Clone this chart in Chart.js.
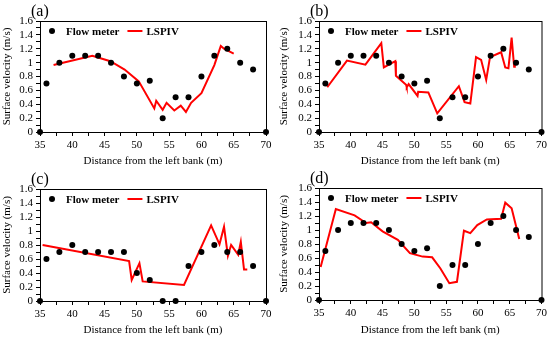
<!DOCTYPE html>
<html>
<head>
<meta charset="utf-8">
<script src="https://cdn.jsdelivr.net/npm/chart.js@4.4.0/dist/chart.umd.min.js"></script>
<style>
  html, body { margin: 0; padding: 0; background: #fff; }
  #wrap { position: relative; width: 550px; height: 337px; overflow: hidden; }
  .panel { position: absolute; width: 275px; }
</style>
</head>
<body>
<div id="wrap">
  <div class="panel" style="left:0;top:0;height:168px"><canvas id="chartA"></canvas></div>
  <div class="panel" style="left:275px;top:0;height:168px"><canvas id="chartB"></canvas></div>
  <div class="panel" style="left:0;top:168px;height:169px"><canvas id="chartC"></canvas></div>
  <div class="panel" style="left:275px;top:168px;height:169px"><canvas id="chartD"></canvas></div>
</div>
<script>
const FONT = '"Liberation Serif", "Times New Roman", serif';

// flow meter stations (m) and velocities (m/s)
const meterDist = [35, 36, 38, 40, 42, 44, 46, 48, 50, 52, 54, 56, 58, 60, 62, 64, 66, 68, 70];
const meterVelABD = [0, 0.7, 1.0, 1.1, 1.1, 1.1, 1.0, 0.8, 0.7, 0.74, 0.2, 0.5, 0.5, 0.8, 1.1, 1.2, 1.0, 0.9, 0];
const meterVelC = [0, 0.6, 0.7, 0.8, 0.7, 0.7, 0.7, 0.7, 0.4, 0.3, 0, 0, 0.5, 0.7, 0.8, 0.7, 0.7, 0.5, 0];

// LSPIV profiles
const lspivDistA = [37.1, 43.1, 45.9, 48.1, 50.3, 52.7, 53.0, 54.0, 54.6, 55.8, 56.8, 57.6, 58.4, 60.0, 62.0, 63.0, 63.5, 65.0];
const lspivVelA = [0.965, 1.10, 1.02, 0.90, 0.73, 0.34, 0.45, 0.32, 0.42, 0.31, 0.38, 0.29, 0.42, 0.56, 0.965, 1.24, 1.20, 1.13];

const lspivDistB = [36.3, 39.4, 42.3, 44.8, 45.2, 47.0, 47.1, 48.7, 48.8, 49.1, 50.5, 50.6, 52.2, 53.6, 57.0, 57.9, 58.8, 59.7, 60.5, 61.3, 61.9, 63.65, 64.3, 64.8, 65.3, 65.7, 65.8];
const lspivVelB = [0.645, 1.03, 0.97, 1.28, 0.93, 1.02, 0.81, 0.68, 0.645, 0.69, 0.52, 0.58, 0.57, 0.27, 0.66, 0.43, 0.41, 1.08, 1.04, 0.75, 1.08, 1.15, 0.93, 0.92, 1.36, 0.94, 1.01];

const lspivDistC = [35.4, 48.8, 49.2, 50.4, 50.9, 57.3, 61.5, 62.8, 63.5, 64.1, 64.6, 65.7, 66.1, 66.6, 67.1];
const lspivVelC = [0.80, 0.57, 0.30, 0.54, 0.28, 0.23, 1.08, 0.81, 1.06, 0.645, 0.80, 0.66, 0.845, 0.45, 0.45];

const lspivDistD = [35.26, 37.65, 40.6, 42.4, 43.2, 45.0, 47.4, 49.3, 51.3, 52.8, 54.1, 55.5, 56.7, 57.8, 58.8, 59.9, 61.4, 63.65, 64.3, 65.3, 66.5];
const lspivVelD = [0.47, 1.30, 1.21, 1.10, 1.11, 0.98, 0.86, 0.67, 0.62, 0.61, 0.45, 0.24, 0.26, 0.99, 0.955, 1.07, 1.15, 1.16, 1.39, 1.31, 0.87];

function pairs(xs, ys) {
  return xs.map((x, i) => ({ x: x, y: ys[i] }));
}

// frame, panel tag and legend drawn onto the canvas
function decorPlugin(tag) {
  return {
    id: 'decor',
    beforeDatasetsDraw(chart) {
      const a = chart.chartArea;
      const ctx = chart.ctx;
      ctx.save();
      ctx.strokeStyle = '#000';
      ctx.lineWidth = 1;
      ctx.strokeRect(a.left + 0.5, a.top + 0.5, a.right - a.left, a.bottom - a.top);
      ctx.restore();
    },
    afterDraw(chart) {
      const a = chart.chartArea;
      const ctx = chart.ctx;
      ctx.save();
      ctx.fillStyle = '#000';
      ctx.textBaseline = 'alphabetic';
      ctx.font = '16px ' + FONT;
      ctx.fillText(tag, a.left - 9, a.top - 5);

      // legend
      const dx = a.left + 12, dy = a.top + 10;
      ctx.beginPath();
      ctx.arc(dx, dy, 3, 0, Math.PI * 2);
      ctx.fill();
      ctx.font = 'bold 11px ' + FONT;
      ctx.textBaseline = 'middle';
      let x = dx + 14;
      ctx.fillText('Flow meter', x, dy + 1);
      x += ctx.measureText('Flow meter').width + 8;
      ctx.strokeStyle = '#ff0000';
      ctx.lineWidth = 2;
      ctx.beginPath();
      ctx.moveTo(x, dy);
      ctx.lineTo(x + 15, dy);
      ctx.stroke();
      ctx.fillText('LSPIV', x + 19, dy + 1);
      ctx.restore();
    }
  };
}

function makeChart(id, tag, meterVel, lineX, lineY, box) {
  new Chart(document.getElementById(id), {
    type: 'scatter',
    data: {
      datasets: [
        {
          label: 'Flow meter',
          data: pairs(meterDist, meterVel),
          showLine: false,
          pointRadius: 3,
          backgroundColor: '#000',
          borderColor: '#000',
          borderWidth: 0,
          clip: false,
          order: 0
        },
        {
          label: 'LSPIV',
          data: pairs(lineX, lineY),
          showLine: true,
          borderColor: '#ff0000',
          borderWidth: 2,
          pointRadius: 0,
          tension: 0,
          clip: false,
          order: 1
        }
      ]
    },
    options: {
      responsive: true,
      maintainAspectRatio: false,
      animation: false,
      layout: { padding: { left: box.padL, top: box.top, right: box.padR, bottom: 0 } },
      plugins: { legend: { display: false }, tooltip: { enabled: false } },
      scales: {
        x: {
          type: 'linear',
          min: 35,
          max: 70,
          ticks: {
            stepSize: 2.5,
            autoSkip: false,
            maxRotation: 0,
            padding: 3,
            color: '#000',
            font: { family: FONT, size: 11 },
            callback: (v) => (v % 5 === 0 ? String(v) : '')
          },
          grid: { drawOnChartArea: false, tickLength: 4, color: '#000' },
          border: { color: '#000' },
          title: {
            display: true,
            text: 'Distance from the left bank (m)',
            color: '#000',
            font: { family: FONT, size: 11 },
            padding: 0
          },
          afterFit: (s) => { s.height = box.xh; }
        },
        y: {
          min: 0,
          max: 1.6,
          ticks: {
            stepSize: 0.1,
            autoSkip: false,
            padding: 3,
            color: '#000',
            font: { family: FONT, size: 11 },
            callback: (v) => {
              const r = Math.round(v * 10);
              return r % 2 === 0 ? String(r / 10) : '';
            }
          },
          grid: { drawOnChartArea: false, tickLength: 4, color: '#000' },
          border: { color: '#000' },
          title: {
            display: true,
            text: 'Surface velocity (m/s)',
            color: '#000',
            font: { family: FONT, size: 11 },
            padding: 1
          },
          afterFit: (s) => { s.width = box.yw; }
        }
      }
    },
    plugins: [decorPlugin(tag)]
  });
}

makeChart('chartA', '(a)', meterVelABD, lspivDistA, lspivVelA, { padL: 0, yw: 40, top: 21, padR: 9, xh: 36 });
makeChart('chartB', '(b)', meterVelABD, lspivDistB, lspivVelB, { padL: 2, yw: 42, top: 21, padR: 7, xh: 36 });
makeChart('chartC', '(c)', meterVelC, lspivDistC, lspivVelC, { padL: 0, yw: 40, top: 21, padR: 9, xh: 36 });
makeChart('chartD', '(d)', meterVelABD, lspivDistD, lspivVelD, { padL: 2, yw: 42, top: 20, padR: 7, xh: 37 });
</script>
</body>
</html>
